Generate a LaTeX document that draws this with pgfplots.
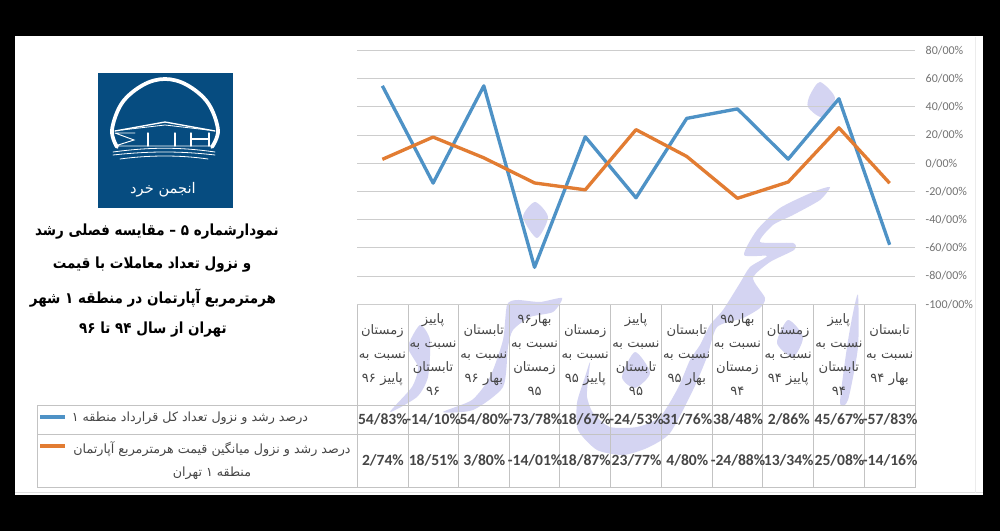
\documentclass[border=0pt]{standalone}
\usepackage{graphicx}
\usepackage{fontspec}
\usepackage{pgfplots}
\usepackage{pgfplotstable}
\pgfplotsset{compat=1.18}
\TeXXeTstate=1
\newfontfamily\fa[Script=Arabic]{DejaVu Sans}
\newfontfamily\cb{Carlito}
\definecolor{wm}{RGB}{212,212,242}
\definecolor{logoblue}{RGB}{6,76,128}
\definecolor{serblue}{RGB}{78,146,198}
\definecolor{serorange}{RGB}{226,124,50}
\definecolor{gridc}{RGB}{205,205,205}
\definecolor{cellc}{RGB}{195,195,195}
\definecolor{txt}{RGB}{70,70,70}

% x = column index, y = percent
\pgfplotstableread{
x contracts price
0 54.83 2.74
1 -14.10 18.51
2 54.80 3.80
3 -73.78 -14.01
4 18.67 -18.87
5 -24.53 23.77
6 31.76 4.80
7 38.48 -24.88
8 2.86 -13.34
9 45.67 25.08
10 -57.83 -14.16
}\growth

\begin{document}
\begin{tikzpicture}[x=0.75pt,y=-0.75pt]
% frame
\fill[black] (0,0) rectangle (1000,531);
\fill[white] (15,36) rectangle (983,495);
\draw[gray!25,line width=0.6pt] (15,492.5) -- (983,492.5);
\draw[gray!15,line width=0.5pt] (975,37) -- (975,492.5);

% watermark
\fill[wm] plot[smooth cycle,tension=0.45] coordinates {(535,202) (548,217) (537,238) (523,217)};
\fill[wm] plot[smooth cycle,tension=0.45] coordinates {(820,82) (835,98) (822,117) (808,107) (810,95)};
\fill[wm] plot[smooth cycle,tension=0.45] coordinates {(635,352) (650,373) (635,388) (622,377)};
\fill[wm] plot[smooth cycle,tension=0.45] coordinates {(788,320) (803,337) (793,357) (777,343)};
\fill[wm] plot[smooth cycle,tension=0.4] coordinates {(858,295) (858,347) (848,400) (840,403) (847,347) (853,313)};
\fill[wm] plot[smooth cycle,tension=0.4] coordinates {(420,325) (430,340) (428,377) (417,397) (390,412) (412,387) (418,367) (408,347)};
\fill[wm] plot[smooth cycle,tension=0.4] coordinates {(562,298) (540,302) (517,300) (507,305) (503,340) (490,377) (472,400) (443,412) (473,410) (503,387) (508,347) (513,330) (530,317) (553,312)};
\fill[wm] plot[smooth cycle,tension=0.4] coordinates {(830,187) (813,192) (780,208) (757,230) (744,255) (767,256) (750,267) (740,283) (723,310) (710,325) (700,345) (690,360) (678,388) (660,417) (637,427) (610,427) (593,413) (587,397) (588,380) (590,362) (585,377) (577,403) (578,430) (597,450) (623,455) (647,448) (670,433) (693,390) (707,357) (717,327) (743,318) (760,308) (765,298) (753,278) (770,262) (794,250) (793,243) (760,242) (773,225) (793,215) (820,200)};

% logo
\fill[logoblue] (98,73) rectangle (233,208);
\begin{scope}[white,line cap=round]
\draw[line width=2.8pt] plot[smooth,tension=0.6] coordinates {(117,147) (112,130) (122,103) (143,85) (165,79) (187,85) (208,103) (218,130) (212,147)};
\draw[line width=1pt] (115,131) -- (165,122) -- (215,131);
\draw[line width=0.6pt] (122,130) -- (165,125) -- (208,130);
\draw[line width=0.7pt] (115,133) -- (135,133) (115,133) -- (134,140) -- (115,146) (115,146) -- (213,146);
\draw[line width=1pt] (148,133) -- (148,146) (175,133) -- (175,146) (191,133) -- (191,146) (209,133) -- (209,146) (191,139) -- (209,139);
\draw[line width=0.6pt] (113,152) .. controls (150,147) and (180,147) .. (215,152);
\draw[line width=0.6pt] (113,155) .. controls (150,151) and (180,151) .. (215,155);
\draw[line width=0.6pt] (120,159) .. controls (150,155) and (180,155) .. (208,159);
\node[font=\fa\fontsize{11}{13}\selectfont,text=white] at (163,190) {\beginR انجمن خرد\endR};
\end{scope}

% title
\begin{scope}[every node/.style={font=\fa\bfseries\fontsize{11.5}{14}\selectfont,text=black}]
\node at (157,232) {\scalebox{0.88}[1]{\beginR نمودارشماره ۵ – مقایسه فصلی رشد\endR}};
\node at (152,265) {\scalebox{0.88}[1]{\beginR و نزول تعداد معاملات با قیمت\endR}};
\node at (153,298) {\scalebox{0.88}[1]{\beginR هرمترمربع آپارتمان در منطقه ۱ شهر\endR}};
\node at (153,330) {\scalebox{0.88}[1]{\beginR تهران از سال ۹۴ تا ۹۶\endR}};
\end{scope}

% table grid
\draw[cellc,line width=0.6pt] (37,405) -- (915,405) (37,434) -- (915,434) (37,487.5) -- (915,487.5);
\draw[cellc,line width=0.6pt] (37,405) -- (37,487.5);
\foreach \c in {357,408.7,458.4,509.1,559.8,610.6,661.3,712,762.7,813.5,864.2,915}
  \draw[cellc,line width=0.6pt] (\c,304) -- (\c,487.5);

\coordinate (plotpos) at (357,304.3);
\begin{axis}[
  at={(plotpos)}, anchor=south west,
  width=418.5pt, height=190.5pt,
  scale only axis,
  xmin=-0.5, xmax=10.5, ymin=-100, ymax=80,
  clip=false,
  axis line style={draw=none},
  tick style={draw=none},
  ymajorgrids, grid style={gridc,line width=0.6pt},
  ytick={-100,-80,-60,-40,-20,0,20,40,60,80},
  yticklabels={-100/00\%,-80/00\%,-60/00\%,-40/00\%,-20/00\%,0/00\%,20/00\%,40/00\%,60/00\%,80/00\%},
  yticklabel pos=right,
  yticklabel style={anchor=west,font=\cb\fontsize{9}{11}\selectfont,text=black!55,xshift=4.5pt},
  xtick=data,
  xticklabels={
    {\beginR زمستان\endR\\\beginR نسبت به\endR\\\beginR پاییز ۹۶\endR},
    {\beginR پاییز\endR\\\beginR نسبت به\endR\\\beginR تابستان\endR\\\beginR ۹۶\endR},
    {\beginR تابستان\endR\\\beginR نسبت به\endR\\\beginR بهار ۹۶\endR},
    {\beginR بهار۹۶\endR\\\beginR نسبت به\endR\\\beginR زمستان\endR\\\beginR ۹۵\endR},
    {\beginR زمستان\endR\\\beginR نسبت به\endR\\\beginR پاییز ۹۵\endR},
    {\beginR پاییز\endR\\\beginR نسبت به\endR\\\beginR تابستان\endR\\\beginR ۹۵\endR},
    {\beginR تابستان\endR\\\beginR نسبت به\endR\\\beginR بهار ۹۵\endR},
    {\beginR بهار۹۵\endR\\\beginR نسبت به\endR\\\beginR زمستان\endR\\\beginR ۹۴\endR},
    {\beginR زمستان\endR\\\beginR نسبت به\endR\\\beginR پاییز ۹۴\endR},
    {\beginR پاییز\endR\\\beginR نسبت به\endR\\\beginR تابستان\endR\\\beginR ۹۴\endR},
    {\beginR تابستان\endR\\\beginR نسبت به\endR\\\beginR بهار ۹۴\endR}
  },
  xticklabel style={anchor=center,align=center,text width=36pt,yshift=-38pt,
    font=\fa\fontsize{9.8}{18}\selectfont,text=txt,inner sep=0pt},
]
\addplot[serblue,line width=2.5pt,line join=round,mark=none] table[x=x,y=contracts] {\growth};
\addplot[serorange,line width=2.5pt,line join=round,mark=none] table[x=x,y=price] {\growth};
\end{axis}

% table rows
\foreach \v [count=\i from 0] in {54/83\%,-14/10\%,54/80\%,-73/78\%,18/67\%,-24/53\%,31/76\%,38/48\%,2/86\%,45/67\%,-57/83\%}
  \node[font=\cb\bfseries\fontsize{11.7}{14}\selectfont,text=txt,inner sep=0pt] at ({382.9+\i*50.73},419.5) {\v};
\foreach \v [count=\i from 0] in {2/74\%,18/51\%,3/80\%,-14/01\%,18/87\%,23/77\%,4/80\%,-24/88\%,13/34\%,25/08\%,-14/16\%}
  \node[font=\cb\bfseries\fontsize{11.7}{14}\selectfont,text=txt,inner sep=0pt] at ({382.9+\i*50.73},460) {\v};

% row headers
\draw[serblue,line width=2.5pt] (40,417) -- (65,417);
\draw[serorange,line width=2.5pt] (40,446) -- (65,446);
\begin{scope}[every node/.style={font=\fa\fontsize{9.5}{11}\selectfont,text=txt,inner sep=0pt}]
\node at (190,418) {\beginR درصد رشد و نزول تعداد کل قرارداد منطقه ۱\endR};
\node at (212,449) {\beginR درصد رشد و نزول میانگین قیمت هرمترمربع آپارتمان\endR};
\node at (212,473) {\beginR منطقه ۱ تهران\endR};
\end{scope}
\end{tikzpicture}
\end{document}
